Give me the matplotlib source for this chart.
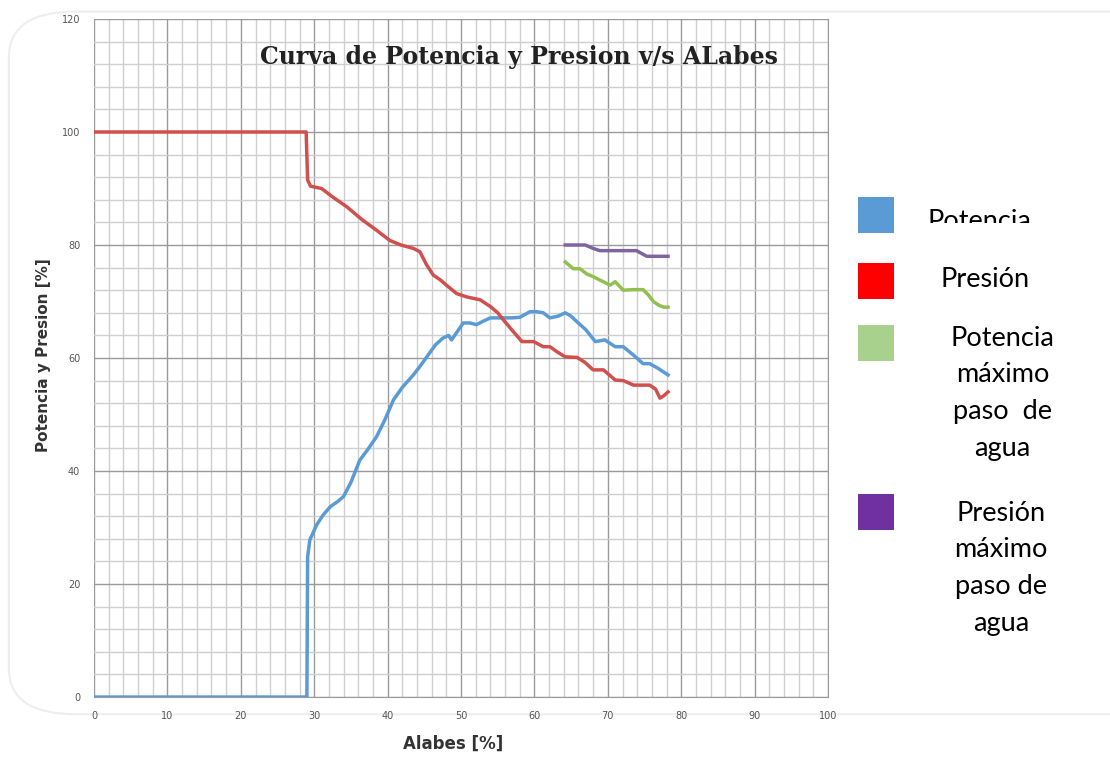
import matplotlib
matplotlib.use("Agg")
import matplotlib.pyplot as plt
from matplotlib.patches import Rectangle, FancyBboxPatch
from matplotlib.ticker import MultipleLocator

# Potencia (blue)
pot_x = [0, 29, 29.1, 29.4, 30.3, 31.2, 32.2, 33.2, 34.0, 35.0, 36.2, 37.4, 38.5, 39.6,
         40.8, 42.0, 43.5, 44.4, 45.5, 46.5, 47.5, 48.3, 48.7, 49.3, 50.3, 51.2, 52.1,
         53.0, 54.0, 55.5, 57.0, 58.0, 59.4, 60.3, 61.2, 62.1, 63.2, 64.2, 65.0, 65.8,
         67.0, 68.3, 69.6, 71.0, 72.1, 73.5, 74.8, 75.7, 76.8, 78.2]
pot_y = [0, 0, 24.8, 27.8, 30.4, 32.2, 33.7, 34.6, 35.5, 38.0, 41.9, 44.0, 46.1, 49.0,
         52.6, 54.8, 57.0, 58.5, 60.5, 62.3, 63.5, 64.0, 63.2, 64.3, 66.2, 66.2, 65.9,
         66.5, 67.1, 67.1, 67.1, 67.2, 68.2, 68.2, 68.0, 67.1, 67.4, 68.0, 67.4, 66.4,
         65.0, 62.9, 63.2, 62.0, 62.0, 60.5, 59.0, 59.0, 58.2, 57.0]

# Presion (red)
pres_x = [0, 28.9, 29.1, 29.5, 31.0, 32.5, 34.4, 36.5, 38.5, 40.3, 41.8, 43.5, 44.4,
          45.3, 46.2, 47.2, 48.0, 49.4, 50.8, 52.6, 54.0, 55.0, 55.8, 57.1, 58.3, 59.9,
          61.2, 62.1, 63.2, 64.2, 65.8, 66.8, 68.0, 69.4, 70.2, 71.0, 72.1, 73.5, 75.7,
          76.5, 77.1, 77.6, 78.2]
pres_y = [100, 100, 91.5, 90.4, 90.0, 88.5, 86.8, 84.5, 82.6, 80.8, 80.0, 79.4, 78.8,
          76.5, 74.7, 73.8, 72.9, 71.4, 70.8, 70.3, 69.1, 68.0, 66.7, 64.7, 62.9, 62.9,
          62.0, 62.0, 61.0, 60.2, 60.1, 59.3, 57.9, 57.9, 57.0, 56.1, 56.0, 55.2, 55.2,
          54.5, 52.9, 53.3, 54.0]

# Potencia maximo paso de agua (green)
pot_max_x = [64.2, 65.3, 66.2, 67.1, 68.0, 68.9, 70.3, 71.0, 72.1, 73.5, 74.8, 75.5, 76.2, 77.0, 77.6, 78.2]
pot_max_y = [77.0, 75.8, 75.8, 74.9, 74.4, 73.8, 72.9, 73.5, 72.0, 72.1, 72.1, 71.2, 70.0, 69.3, 69.0, 69.0]

# Presion maximo paso de agua (purple)
pres_max_x = [64.2, 66.9, 68.0, 68.9, 72.0, 73.9, 74.6, 75.3, 78.2]
pres_max_y = [80.0, 80.0, 79.4, 79.0, 79.0, 79.0, 78.5, 78.0, 78.0]

legend_labels = ["Potencia", "Presión", "Potencia\nmáximo\npaso  de\nagua",
                 "Presión\nmáximo\npaso de\nagua"]
legend_colors = ["#5B9BD5", "#FF0000", "#A9D18E", "#7030A0"]

fig = plt.figure(figsize=(11.1, 7.68), dpi=100)

# light rounded frame behind everything
frame = FancyBboxPatch((0.008, 0.07), 1.2, 0.915, boxstyle="round,pad=0,rounding_size=0.06",
                       transform=fig.transFigure, facecolor="white", edgecolor="#eeeeee",
                       linewidth=1.5, zorder=-5)
fig.patches.append(frame)

ax = fig.add_axes([0.0847, 0.0924, 0.6613, 0.8829])
ax.set_xlim(0, 100)
ax.set_ylim(0, 120)
ax.xaxis.set_major_locator(MultipleLocator(10))
ax.xaxis.set_minor_locator(MultipleLocator(2))
ax.yaxis.set_major_locator(MultipleLocator(20))
ax.yaxis.set_minor_locator(MultipleLocator(4))
ax.grid(which="major", color="#9a9a9a", linewidth=1.0)
ax.grid(which="minor", color="#cfcfcf", linewidth=1.0)
ax.set_axisbelow(True)
for s in ["top", "left"]:
    ax.spines[s].set_visible(False)
ax.spines["bottom"].set_color("#9a9a9a")
ax.spines["right"].set_color("#9a9a9a")
ax.tick_params(which="both", length=0, labelsize=7, labelcolor="#555555", pad=10)
ax.patch.set_alpha(0)

ax.plot(pot_x, pot_y, color="#5B9BD5", linewidth=2.5, solid_joinstyle="round")
ax.plot(pres_x, pres_y, color="#D0504D", linewidth=2.5, solid_joinstyle="round")
ax.plot(pot_max_x, pot_max_y, color="#92C050", linewidth=2.5, solid_joinstyle="round")
ax.plot(pres_max_x, pres_max_y, color="#8064A2", linewidth=2.5, solid_joinstyle="round")

ax.set_xlabel("Alabes [%]", fontsize=12, fontweight="bold", color="#333333")
ax.set_ylabel("Potencia y Presion [%]", fontsize=11, fontweight="bold", color="#333333")
ax.xaxis.set_label_coords(0.489, -0.056)
ax.yaxis.set_label_coords(-0.059, 0.504)

fig.text(0.468, 0.926, "Curva de Potencia y Presion v/s ALabes", fontsize=17,
         fontweight="bold", family="DejaVu Serif", color="#222222", ha="center", va="center")

# custom legend on the right
sq_y = [0.696, 0.611, 0.530, 0.310]
txt_x = [0.882, 0.887, 0.903, 0.902]
txt_y = [0.711, 0.636, 0.488, 0.260]
for lab, col, sy, tx, ty in zip(legend_labels, legend_colors, sq_y, txt_x, txt_y):
    fig.patches.append(Rectangle((0.773, sy), 0.032, 0.047, transform=fig.transFigure,
                                 facecolor=col, edgecolor="none"))
    t = fig.text(tx, ty, lab, fontsize=19.5, family="Lato", color="black", ha="center",
                 va="center", linespacing=1.59)
    if lab == "Potencia":
        # the first label is cut off at the bottom in the original
        t.set_clip_box(matplotlib.transforms.Bbox.from_extents(0, 0.7096 * 768, 1110, 768))

fig.savefig("out.png", dpi=100)
